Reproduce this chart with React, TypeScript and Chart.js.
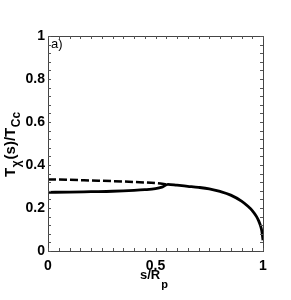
import React, { useEffect, useRef } from "react";
import { Chart, registerables } from "chart.js";

Chart.register(...registerables);

const solidS = [0, 0.1, 0.2, 0.3, 0.4, 0.45, 0.5, 0.53, 0.558, 0.6, 0.65, 0.7, 0.75, 0.8, 0.85, 0.9, 0.93, 0.95, 0.97, 0.98, 0.99, 0.995, 1.0];
const solidT = [0.273, 0.274, 0.276, 0.278, 0.282, 0.285, 0.29, 0.297, 0.31, 0.306, 0.301, 0.296, 0.289, 0.277, 0.26, 0.232, 0.208, 0.188, 0.16, 0.14, 0.112, 0.09, 0.05];
const dashedS = [0, 0.1, 0.2, 0.3, 0.4, 0.5, 0.558];
const dashedT = [0.333, 0.331, 0.328, 0.325, 0.321, 0.316, 0.31];

const xTicks = [0, 0.5, 1];
const yTicks = [0, 0.2, 0.4, 0.6, 0.8, 1];
const xMinorStep = 0.05;
const yMinorStep = 0.04;

const FONT = "'Liberation Sans', Arial, Helvetica, sans-serif";

const decorPlugin = {
  id: "decor",
  afterDraw(chart: any) {
    const ctx = chart.ctx as CanvasRenderingContext2D;
    const { left, right, top, bottom } = chart.chartArea;
    const xs = chart.scales.x;
    const ys = chart.scales.y;
    ctx.save();
    // frame
    ctx.strokeStyle = "#444";
    ctx.lineWidth = 1;
    ctx.strokeRect(Math.round(left) + 0.5, Math.round(top) + 0.5, Math.round(right - left), Math.round(bottom - top));
    // minor ticks
    ctx.strokeStyle = "#555";
    ctx.beginPath();
    const tl = 3;
    for (let v = 0; v <= 1.0001; v += xMinorStep) {
      const px = Math.round(xs.getPixelForValue(v)) + 0.5;
      ctx.moveTo(px, bottom);
      ctx.lineTo(px, bottom - tl);
      ctx.moveTo(px, top);
      ctx.lineTo(px, top + tl);
    }
    for (let v = 0; v <= 1.0001; v += yMinorStep) {
      const py = Math.round(ys.getPixelForValue(v)) + 0.5;
      ctx.moveTo(left, py);
      ctx.lineTo(left + tl, py);
      ctx.moveTo(right, py);
      ctx.lineTo(right - tl, py);
    }
    ctx.stroke();

    ctx.fillStyle = "#000";
    // panel label
    ctx.font = `13px ${FONT}`;
    ctx.textBaseline = "top";
    ctx.textAlign = "left";
    ctx.fillText("a)", left + 3, top + 2);

    // x title
    ctx.textBaseline = "alphabetic";
    const mainX = `bold 13px ${FONT}`;
    const subX = `bold 11px ${FONT}`;
    ctx.font = mainX;
    const w1 = ctx.measureText("s/R").width;
    ctx.font = subX;
    const w2 = ctx.measureText("p").width;
    const cx = (left + right) / 2 - 2;
    let sx = cx - (w1 + w2) / 2;
    ctx.font = mainX;
    ctx.fillText("s/R", sx, 279);
    ctx.font = subX;
    ctx.fillText("p", sx + w1 + 1, 288);

    // y title
    const mainY = `bold 15px ${FONT}`;
    const subY = `bold 12px ${FONT}`;
    ctx.translate(14.5, 177);
    ctx.rotate(-Math.PI / 2);
    let pos = 0;
    const parts: [string, boolean][] = [["T", false], ["\u03c7", true], ["(s)/T", false], ["Cc", true]];
    for (const [t, sub] of parts) {
      ctx.font = sub ? subY : mainY;
      ctx.fillText(t, pos, sub ? 5 : 0);
      pos += ctx.measureText(t).width + (sub ? 1 : 0.5);
    }
    ctx.restore();
  },
};

export default function App() {
  const ref = useRef<HTMLCanvasElement>(null);
  useEffect(() => {
    document.body.style.margin = "0";
    const chart = new Chart(ref.current!, {
      type: "line",
      data: {
        datasets: [
          {
            data: solidS.map((s, i) => ({ x: s, y: solidT[i] })),
            borderColor: "#000",
            borderWidth: 2.8,
            pointRadius: 0,
            cubicInterpolationMode: "monotone",
          },
          {
            data: dashedS.map((s, i) => ({ x: s, y: dashedT[i] })),
            borderColor: "#000",
            borderWidth: 2.5,
            borderDash: [8, 3],
            pointRadius: 0,
            cubicInterpolationMode: "monotone",
          },
        ],
      },
      options: {
        animation: false,
        responsive: false,
        layout: { padding: { top: 36, right: 28, left: 0, bottom: 0 } },
        plugins: { legend: { display: false }, tooltip: { enabled: false } },
        scales: {
          x: {
            type: "linear",
            min: 0,
            max: 1,
            grid: { display: false, drawTicks: false },
            border: { display: false },
            afterBuildTicks: (s: any) => {
              s.ticks = xTicks.map((v) => ({ value: v }));
            },
            afterFit: (s: any) => {
              s.height = 49;
            },
            ticks: {
              padding: 7,
              color: "#000",
              maxRotation: 0,
              font: { family: FONT, size: 14, weight: "bold" },
              callback: (v: any) => String(v),
            },
          },
          y: {
            type: "linear",
            min: 0,
            max: 1,
            grid: { display: false, drawTicks: false },
            border: { display: false },
            afterBuildTicks: (s: any) => {
              s.ticks = yTicks.map((v) => ({ value: v }));
            },
            afterFit: (s: any) => {
              s.width = 48;
            },
            ticks: {
              padding: 3,
              color: "#000",
              font: { family: FONT, size: 14, weight: "bold" },
              callback: (v: any) => String(Math.round(v * 10) / 10),
            },
          },
        },
      },
      plugins: [decorPlugin],
    } as any);
    return () => chart.destroy();
  }, []);
  return (
    <div style={{ width: 291, height: 300 }}>
      <canvas ref={ref} width={291} height={300} style={{ display: "block" }} />
    </div>
  );
}
